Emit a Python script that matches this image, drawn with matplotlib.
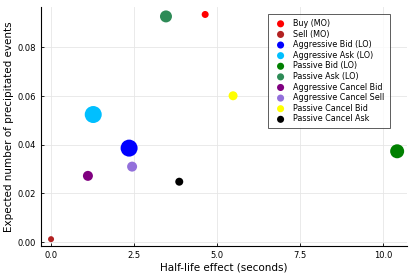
import numpy as np
import matplotlib
matplotlib.use("Agg")
import matplotlib.pyplot as plt

labels = ["Buy (MO)", "Sell (MO)", "Aggressive Bid (LO)", "Aggressive Ask (LO)",
          "Passive Bid (LO)", "Passive Ask (LO)", "Aggressive Cancel Bid",
          "Aggressive Cancel Sell", "Passive Cancel Bid", "Passive Cancel Ask"]
half_life = [4.64, 0.0, 2.35, 1.27, 10.42, 3.46, 1.11, 2.44, 5.48, 3.86]
expected = [0.0935, 0.0012, 0.0386, 0.0524, 0.0373, 0.0927, 0.0272, 0.0310, 0.0601, 0.0248]

colors = ["red", "firebrick", "blue", "deepskyblue", "green", "seagreen",
          "purple", "mediumpurple", "yellow", "black"]
marker_px = [7, 6, 17, 17, 14, 12, 10, 10, 9, 8]

fig = plt.figure(figsize=(4.15, 2.77), dpi=100)
ax = fig.add_axes([0.099, 0.112, 0.882, 0.863])

for x, y, c, d, lab in zip(half_life, expected, colors, marker_px, labels):
    ax.scatter([x], [y], s=(d * 0.72) ** 2, color=c, edgecolors="none", label=lab, zorder=3)

ax.set_xlim(-0.3, 10.72)
ax.set_ylim(-0.0016, 0.0966)
ax.set_xticks([0.0, 2.5, 5.0, 7.5, 10.0])
ax.set_xticklabels(["0.0", "2.5", "5.0", "7.5", "10.0"])
ax.set_yticks([0.0, 0.02, 0.04, 0.06, 0.08])
ax.set_yticklabels(["0.00", "0.02", "0.04", "0.06", "0.08"])
ax.tick_params(labelsize=6, direction="in", length=2, width=0.6)
ax.grid(True, color="#e6e6e6", linewidth=0.6, zorder=0)
ax.set_axisbelow(True)
for s in ["top", "right"]:
    ax.spines[s].set_visible(False)
for s in ["left", "bottom"]:
    ax.spines[s].set_linewidth(0.8)

ax.set_xlabel("Half-life effect (seconds)", fontsize=7.5, labelpad=2)
ax.set_ylabel("Expected number of precipitated events", fontsize=7.5, labelpad=3)

leg = ax.legend(loc="upper right", bbox_to_anchor=(0.952, 0.97), fontsize=5.8,
                markerscale=1.0, handletextpad=0.6, labelspacing=0.2,
                borderpad=0.6, fancybox=False, frameon=True, borderaxespad=0)
leg.get_frame().set_edgecolor("#333333")
leg.get_frame().set_linewidth(0.7)
for h in leg.legend_handles:
    h.set_sizes([26])

fig.savefig("out.png", dpi=100)
